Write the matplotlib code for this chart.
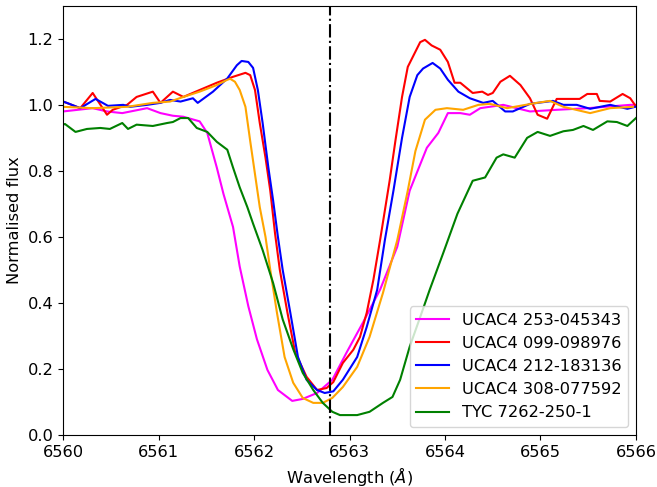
import numpy as np
import matplotlib
matplotlib.use("Agg")
import matplotlib.pyplot as plt

# H-alpha rest wavelength
halpha = 6562.8

# UCAC4 253-045343
wl_mag = [6560.0, 6560.31, 6560.46, 6560.62, 6560.88, 6561.02, 6561.15, 6561.26, 6561.43, 6561.51,
          6561.61, 6561.68, 6561.78, 6561.85, 6561.94, 6562.03, 6562.14, 6562.25, 6562.40, 6562.51,
          6562.66, 6562.82, 6562.97, 6563.14, 6563.32, 6563.50, 6563.63, 6563.81, 6563.93, 6564.03,
          6564.16, 6564.26, 6564.37, 6564.61, 6564.89, 6565.17, 6565.50, 6565.94, 6566.0]
fx_mag = [0.98, 0.99, 0.98, 0.975, 0.99, 0.975, 0.967, 0.964, 0.95, 0.915,
          0.81, 0.73, 0.63, 0.51, 0.39, 0.29, 0.197, 0.136, 0.103, 0.109,
          0.127, 0.167, 0.25, 0.34, 0.44, 0.57, 0.74, 0.87, 0.915, 0.975,
          0.975, 0.97, 0.99, 1.0, 0.98, 0.985, 0.99, 1.0, 1.0]

# UCAC4 099-098976
wl_red = [6560.0, 6560.18, 6560.31, 6560.46, 6560.52, 6560.67, 6560.77, 6560.94, 6561.02, 6561.15,
          6561.26, 6561.43, 6561.61, 6561.78, 6561.91, 6561.96, 6562.01, 6562.06, 6562.12, 6562.17,
          6562.22, 6562.27, 6562.35, 6562.43, 6562.55, 6562.66, 6562.76, 6562.83, 6562.93, 6563.04,
          6563.11, 6563.18, 6563.25, 6563.32, 6563.42, 6563.48, 6563.55, 6563.61, 6563.74, 6563.79,
          6563.86, 6563.95, 6564.03, 6564.10, 6564.16, 6564.29, 6564.39, 6564.45, 6564.50, 6564.58,
          6564.68, 6564.79, 6564.89, 6564.97, 6565.07, 6565.17, 6565.41, 6565.49, 6565.59, 6565.62,
          6565.73, 6565.86, 6565.94, 6566.0]
fx_red = [1.01, 0.99, 1.036, 0.97, 0.985, 1.0, 1.024, 1.04, 1.006, 1.04,
          1.024, 1.045, 1.067, 1.085, 1.097, 1.09, 1.045, 0.945, 0.84, 0.74,
          0.61, 0.50, 0.37, 0.25, 0.176, 0.136, 0.142, 0.16, 0.218, 0.258,
          0.297, 0.37, 0.47, 0.59, 0.77, 0.89, 1.024, 1.115, 1.19, 1.197,
          1.18, 1.167, 1.13, 1.067, 1.067, 1.036, 1.04, 1.03, 1.036, 1.07,
          1.088, 1.06, 1.02, 0.97, 0.958, 1.018, 1.018, 1.033, 1.033, 1.012,
          1.01, 1.033, 1.02, 0.995]

# UCAC4 212-183136
wl_blu = [6560.0, 6560.04, 6560.18, 6560.34, 6560.47, 6560.63, 6560.70, 6560.88, 6561.02, 6561.12,
          6561.23, 6561.36, 6561.41, 6561.57, 6561.72, 6561.82, 6561.87, 6561.94, 6561.99, 6562.04,
          6562.09, 6562.15, 6562.20, 6562.25, 6562.30, 6562.38, 6562.46, 6562.55, 6562.66, 6562.74,
          6562.83, 6562.93, 6563.08, 6563.18, 6563.29, 6563.37, 6563.46, 6563.55, 6563.63, 6563.71,
          6563.77, 6563.87, 6563.95, 6564.03, 6564.14, 6564.26, 6564.40, 6564.50, 6564.63, 6564.71,
          6564.89, 6565.13, 6565.24, 6565.38, 6565.52, 6565.73, 6565.91, 6565.99]
fx_blu = [1.01, 1.006, 0.99, 1.018, 0.997, 1.0, 0.994, 1.0, 1.006, 1.015,
          1.01, 1.02, 1.006, 1.04, 1.08, 1.12, 1.133, 1.13, 1.112, 1.045,
          0.945, 0.81, 0.71, 0.60, 0.50, 0.37, 0.236, 0.167, 0.136, 0.127,
          0.132, 0.167, 0.236, 0.327, 0.44, 0.59, 0.74, 0.90, 1.024, 1.09,
          1.11, 1.127, 1.11, 1.076, 1.04, 1.02, 1.006, 1.012, 0.98, 0.98,
          1.003, 1.012, 1.0, 1.0, 0.988, 1.0, 0.988, 0.994]

# UCAC4 308-077592
wl_org = [6560.0, 6560.31, 6560.67, 6560.94, 6561.12, 6561.26, 6561.43, 6561.61, 6561.72, 6561.75,
          6561.80, 6561.85, 6561.91, 6561.96, 6562.01, 6562.06, 6562.12, 6562.17, 6562.24, 6562.32,
          6562.41, 6562.51, 6562.62, 6562.72, 6562.82, 6562.93, 6563.08, 6563.21, 6563.35, 6563.50,
          6563.61, 6563.69, 6563.79, 6563.90, 6564.02, 6564.19, 6564.35, 6564.47, 6564.65, 6564.96,
          6565.10, 6565.24, 6565.52, 6565.73, 6565.97]
fx_org = [0.994, 0.99, 0.994, 1.006, 1.01, 1.024, 1.04, 1.06, 1.076, 1.079,
          1.07, 1.045, 0.994, 0.89, 0.79, 0.69, 0.60, 0.50, 0.37, 0.236,
          0.158, 0.112, 0.097, 0.097, 0.112, 0.145, 0.206, 0.297, 0.43, 0.59,
          0.74, 0.86, 0.955, 0.985, 0.99, 0.985, 1.0, 1.003, 0.99, 1.006,
          1.012, 0.994, 0.975, 0.99, 0.994]

# TYC 7262-250-1
wl_grn = [6560.0, 6560.02, 6560.13, 6560.25, 6560.39, 6560.49, 6560.62, 6560.68, 6560.77, 6560.94,
          6561.09, 6561.15, 6561.23, 6561.31, 6561.40, 6561.51, 6561.61, 6561.72, 6561.78, 6561.85,
          6561.93, 6561.99, 6562.04, 6562.09, 6562.20, 6562.30, 6562.41, 6562.51, 6562.62, 6562.72,
          6562.82, 6562.90, 6562.98, 6563.08, 6563.21, 6563.35, 6563.45, 6563.53, 6563.63, 6563.74,
          6563.84, 6563.98, 6564.13, 6564.29, 6564.42, 6564.54, 6564.61, 6564.73, 6564.86, 6564.97,
          6565.10, 6565.24, 6565.34, 6565.45, 6565.55, 6565.70, 6565.80, 6565.91, 6566.0]
fx_grn = [0.94, 0.942, 0.918, 0.927, 0.93, 0.927, 0.945, 0.927, 0.94, 0.936,
          0.945, 0.948, 0.96, 0.96, 0.93, 0.918, 0.888, 0.864, 0.81, 0.75,
          0.69, 0.64, 0.60, 0.56, 0.46, 0.35, 0.26, 0.188, 0.136, 0.097,
          0.07, 0.06, 0.06, 0.06, 0.07, 0.097, 0.115, 0.167, 0.267, 0.357,
          0.44, 0.55, 0.67, 0.77, 0.78, 0.84, 0.85, 0.84, 0.90, 0.918,
          0.906, 0.92, 0.924, 0.936, 0.924, 0.95, 0.948, 0.936, 0.96]

stars = ["UCAC4 253-045343", "UCAC4 099-098976", "UCAC4 212-183136",
         "UCAC4 308-077592", "TYC 7262-250-1"]

fs = 11.7

fig = plt.figure(figsize=(6.57, 4.87), dpi=100)
ax = fig.add_axes([0.096, 0.107, 0.872, 0.881])

ax.plot(wl_mag, fx_mag, color="magenta", label=stars[0])
ax.plot(wl_red, fx_red, color="red", label=stars[1])
ax.plot(wl_blu, fx_blu, color="blue", label=stars[2])
ax.plot(wl_org, fx_org, color="orange", label=stars[3])
ax.plot(wl_grn, fx_grn, color="green", label=stars[4])
ax.axvline(halpha, color="black", linestyle="-.", linewidth=1.5)

ax.set_xlim(6560, 6566)
ax.set_ylim(0, 1.3)
ax.set_yticks([0.0, 0.2, 0.4, 0.6, 0.8, 1.0, 1.2])
ax.tick_params(labelsize=fs)
ax.set_xlabel("Wavelength ($Å$)", fontsize=fs)
ax.set_ylabel("Normalised flux", fontsize=fs)
ax.legend(loc="lower right", fontsize=fs)

fig.savefig("out.png", dpi=100)
